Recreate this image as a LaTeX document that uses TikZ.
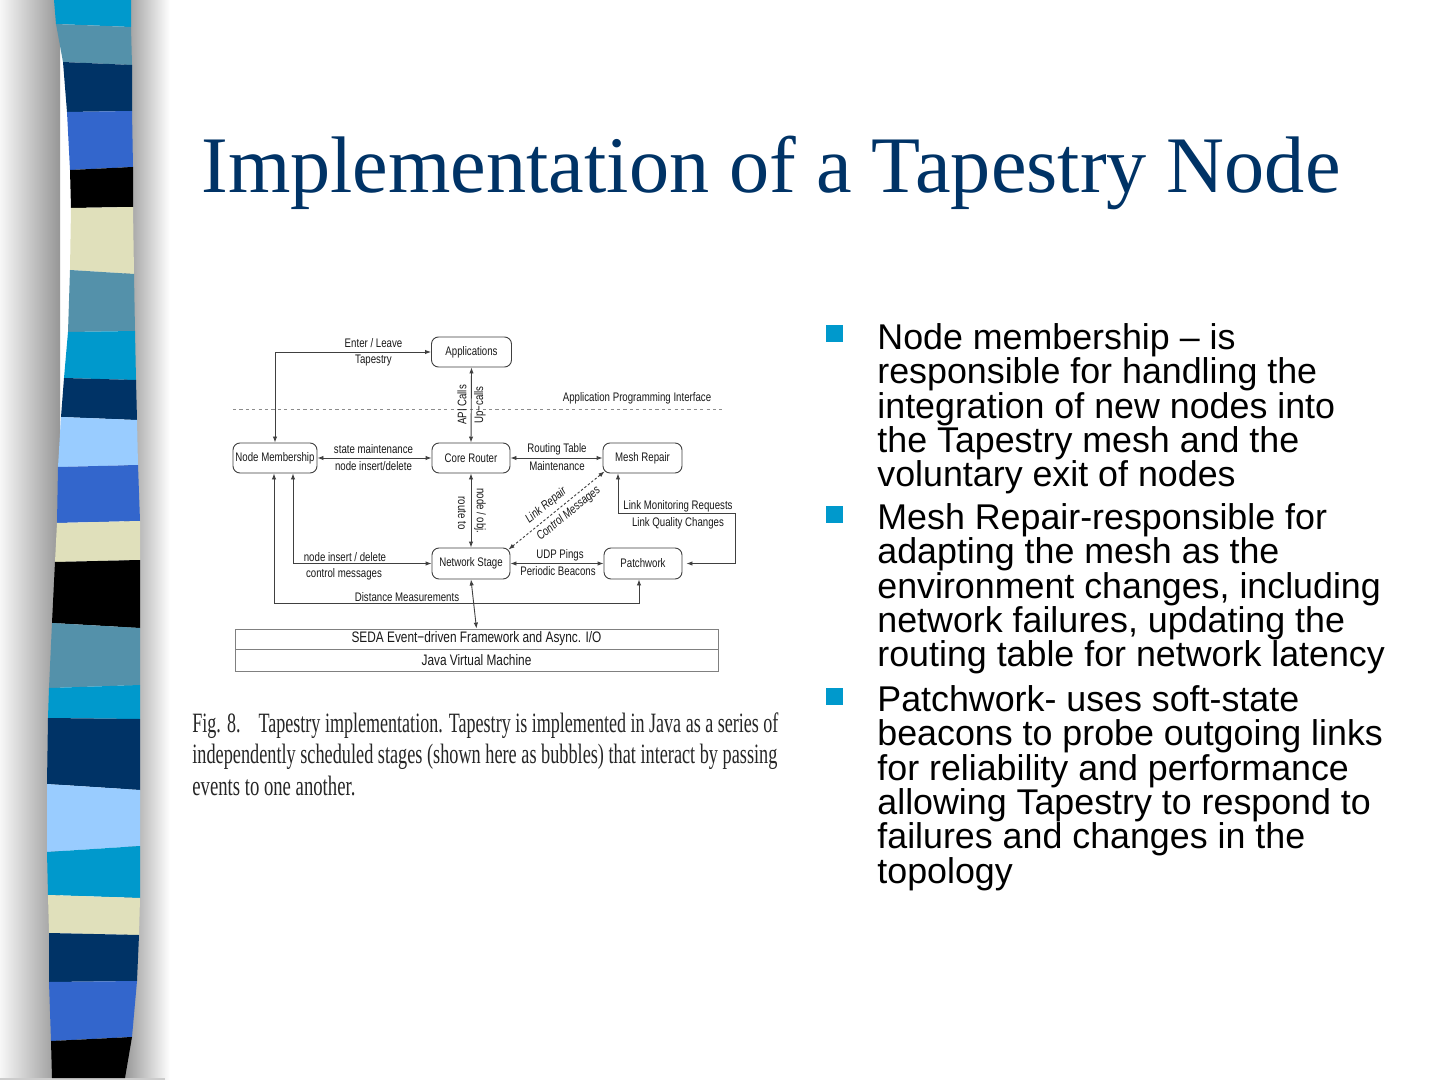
\documentclass[tikz,border=0pt]{standalone}
\usepackage{fontspec}
\usepackage{graphicx}
\setmainfont{Liberation Serif}
\newfontfamily\sansf{Liberation Sans}
\newfontfamily\dfont[FakeStretch=0.78]{Liberation Sans}
\usetikzlibrary{arrows.meta}
\definecolor{titleblue}{RGB}{0,51,102}
\definecolor{bulletblue}{RGB}{0,153,204}
\definecolor{cyanC}{RGB}{0,153,204}
\definecolor{steelC}{RGB}{84,145,170}
\definecolor{navyC}{RGB}{0,51,102}
\definecolor{blueC}{RGB}{51,102,204}
\definecolor{beigeC}{RGB}{224,224,187}
\definecolor{lightC}{RGB}{153,204,255}
\definecolor{shL}{RGB}{247,247,247}
\definecolor{shM}{RGB}{150,150,150}
\begin{document}
\begin{tikzpicture}[x=0.5pt,y=-0.5pt,
  lab/.style={font=\dfont\fontsize{6.2}{7}\selectfont, inner sep=0pt, text=black!90},
  rbox/.style={draw=black!75, line width=0.45pt, rounded corners=3.5pt, minimum height=15pt, inner sep=0pt, font=\dfont\fontsize{6.2}{7}\selectfont, text=black!90},
  layer/.style={draw=black!50, line width=0.4pt, minimum width=241.5pt, inner sep=0pt, font=\dfont\fontsize{7.6}{8}\selectfont, text=black!90},
  conn/.style={draw=black!75, line width=0.45pt, arrows={Latex[length=3pt,width=2.2pt]-Latex[length=3pt,width=2.2pt]}},
  btext/.style={anchor=north west, align=left, inner sep=0pt, font=\sansf\fontsize{17.9}{17.2}\selectfont},
  sq/.style={fill=bulletblue, minimum size=8.5pt, inner sep=0pt},
  capn/.style={anchor=base west, inner sep=0pt, font=\fontsize{14}{15}\selectfont, text=black!85}]
\useasboundingbox (0,0) rectangle (1440,1080);
\fill[white] (0,0) rectangle (1440,1080);
% shadows of the stripe
\shade[left color=shL, right color=shM] (0,0) rectangle (60,1080);
\shade[left color=shM, right color=white] (124,0) rectangle (170,1080);
\draw[black!20, line width=1pt] (0,1079) -- (165,1079);
% stripe bands
\fill[cyanC]  (54,0) -- (131,0) -- (131,27) -- (56,24) -- cycle;
\fill[steelC] (56,24) -- (131,27) -- (132,65) -- (63,62) -- cycle;
\fill[navyC]  (63,62) -- (132,65) -- (132,111) -- (67,112) -- cycle;
\fill[blueC]  (67,112) -- (132,111) -- (133,167) -- (70,170) -- cycle;
\fill[black]  (70,170) -- (133,167) -- (133,207) -- (71,208) -- cycle;
\fill[beigeC] (71,208) -- (133,207) -- (134,274) -- (70,270) -- cycle;
\fill[steelC] (70,270) -- (134,274) -- (135,331) -- (68,332) -- cycle;
\fill[cyanC]  (68,332) -- (135,331) -- (136,380) -- (64,378) -- cycle;
\fill[navyC]  (64,378) -- (136,380) -- (137,420) -- (61,417) -- cycle;
\fill[lightC] (61,417) -- (137,420) -- (138,465) -- (58,467) -- cycle;
\fill[blueC]  (58,467) -- (138,465) -- (140,521) -- (57,523) -- cycle;
\fill[beigeC] (57,523) -- (140,521) -- (140,560) -- (55,562) -- cycle;
\fill[black]  (55,562) -- (140,560) -- (140,628) -- (52,623) -- cycle;
\fill[steelC] (52,623) -- (140,628) -- (140,685) -- (49,688) -- cycle;
\fill[cyanC]  (49,688) -- (140,685) -- (140,719) -- (48,718) -- cycle;
\fill[navyC]  (48,718) -- (140,719) -- (140,790) -- (47,784) -- cycle;
\fill[lightC] (47,784) -- (140,790) -- (140,846) -- (47,852) -- cycle;
\fill[cyanC]  (47,852) -- (140,846) -- (140,898) -- (48,895) -- cycle;
\fill[beigeC] (48,895) -- (140,898) -- (139,935) -- (49,933) -- cycle;
\fill[navyC]  (49,933) -- (139,935) -- (137,981) -- (49,982) -- cycle;
\fill[blueC]  (49,982) -- (137,981) -- (132,1037) -- (51,1041) -- cycle;
\fill[black]  (51,1041) -- (132,1037) -- (125,1078) -- (52,1078) -- cycle;

% title
\node[anchor=base west, inner sep=0pt, text=titleblue, font=\fontsize{40.1}{44}\selectfont] (title) at (201,193) {Implementation of a Tapestry Node};

% diagram boxes
\node[rbox, minimum width=40pt] (app) at (471.5,352) {Applications};
\node[rbox, minimum width=42pt] (nm) at (275,458) {Node Membership};
\node[rbox, minimum width=39pt] (cr) at (471,458) {Core Router};
\node[rbox, minimum width=39.5pt] (mr) at (642.5,458) {Mesh Repair};
\node[rbox, minimum width=39pt, minimum height=15.5pt] (ns) at (471,563.5) {Network Stage};
\node[rbox, minimum width=39pt, minimum height=15.5pt] (pw) at (643,563.5) {Patchwork};
\node[layer, minimum height=10pt] (seda) at (476.5,639) {SEDA Event−driven Framework and Async. I/O};
\node[layer, minimum height=11pt] (jvm) at (476.5,660) {Java Virtual Machine};

% API line
\coordinate (apiL) at (233,409);
\coordinate (apiR) at (722,409);
\draw[black!45, line width=0.45pt, dash pattern=on 1.6pt off 1.6pt] (apiL) -- (apiR);
\node[lab] (lapi) at (637,398) {Application Programming Interface};

% connectors
\draw[conn] (app.west) -| (nm.north);
\node[lab] (lel) at (373.5,343) {Enter / Leave};
\node[lab] (ltap) at (373.5,361) {Tapestry};

\draw[conn] (app.south) -- (cr.north);
\node[lab, rotate=90] (lapic) at (462,405) {API Calls};
\node[lab, rotate=90] (lupc) at (480,405) {Up−calls};

\draw[conn] (nm.east) -- (cr.west);
\node[lab] (lsm) at (373.5,449.5) {state maintenance};
\node[lab] (lnid) at (373.5,466.5) {node insert/delete};

\draw[conn] (cr.east) -- (mr.west);
\node[lab] (lrt) at (557,449.5) {Routing Table};
\node[lab] (lmt) at (557,466.5) {Maintenance};

\draw[conn] (cr.south) -- (ns.north);
\node[lab, rotate=-90] (lrto) at (462,513) {route to};
\node[lab, rotate=-90] (lnob) at (480,511) {node / obj.};

\draw[conn, dash pattern=on 1.2pt off 1pt] ([shift={(-2,2)}]ns.north east) -- ([shift={(2,-2)}]mr.south west)
  node[lab, sloped, pos=0.46, above=2pt, font=\dfont\itshape\fontsize{6.2}{7}\selectfont] (llr) {Link Repair}
  node[lab, sloped, pos=0.56, below=2pt, font=\dfont\itshape\fontsize{6.2}{7}\selectfont] (lcm) {Control Messages};

\coordinate (lmA) at (618,513);
\coordinate (lmB) at (735,513);
\coordinate (lmC) at (735,563.5);
\draw[conn, shorten >=2pt] (mr.south -| lmA) -- (lmA) -- (lmB) -- (lmC) -- (pw.east);
\node[lab] (llm) at (678,506) {Link Monitoring Requests};
\node[lab] (llq) at (678,523) {Link Quality Changes};

\draw[conn] (ns.east) -- (pw.west);
\node[lab] (ludp) at (560,555) {UDP Pings};
\node[lab] (lpb) at (558,571.5) {Periodic Beacons};

\coordinate (niA) at (293,563.5);
\draw[conn] (nm.south -| niA) -- (niA) -- (ns.west);
\node[lab] (lnid2) at (345,557) {node insert / delete};
\node[lab] (lcms) at (344,574.5) {control messages};

\coordinate (dmA) at (274,603);
\coordinate (dmB) at (639,603);
\draw[conn] (nm.south -| dmA) -- (dmA) -- (dmB) -- (pw.south -| dmB);
\node[lab] (ldm) at (407,597.5) {Distance Measurements};

\draw[conn] (ns.south) -- (seda.north);

% caption
\node[capn] (cap1) at (192,732) {\resizebox{293pt}{\height}{Fig. 8.\quad Tapestry implementation. Tapestry is implemented in Java as a series of}};
\node[capn] (cap2) at (192,763.5) {\resizebox{292.5pt}{\height}{independently scheduled stages (shown here as bubbles) that interact by passing}};
\node[capn] (cap3) at (192,795) {\resizebox{81.5pt}{\height}{events to one another.}};

% bullets
\node[sq] (s1) at (834.5,334) {};
\node[sq] (s2) at (834.5,514) {};
\node[sq] (s3) at (834.5,696) {};
\node[btext] (t1) at (877,323) {Node membership – is\\responsible for handling the\\integration of new nodes into\\the Tapestry mesh and the\\voluntary exit of nodes};
\node[btext] (t2) at (877,503) {Mesh Repair-responsible for\\adapting the mesh as the\\environment changes, including\\network failures, updating the\\routing table for network latency};
\node[btext] (t3) at (877,685) {Patchwork- uses soft-state\\beacons to probe outgoing links\\for reliability and performance\\allowing Tapestry to respond to\\failures and changes in the\\topology};
\end{tikzpicture}
\end{document}
